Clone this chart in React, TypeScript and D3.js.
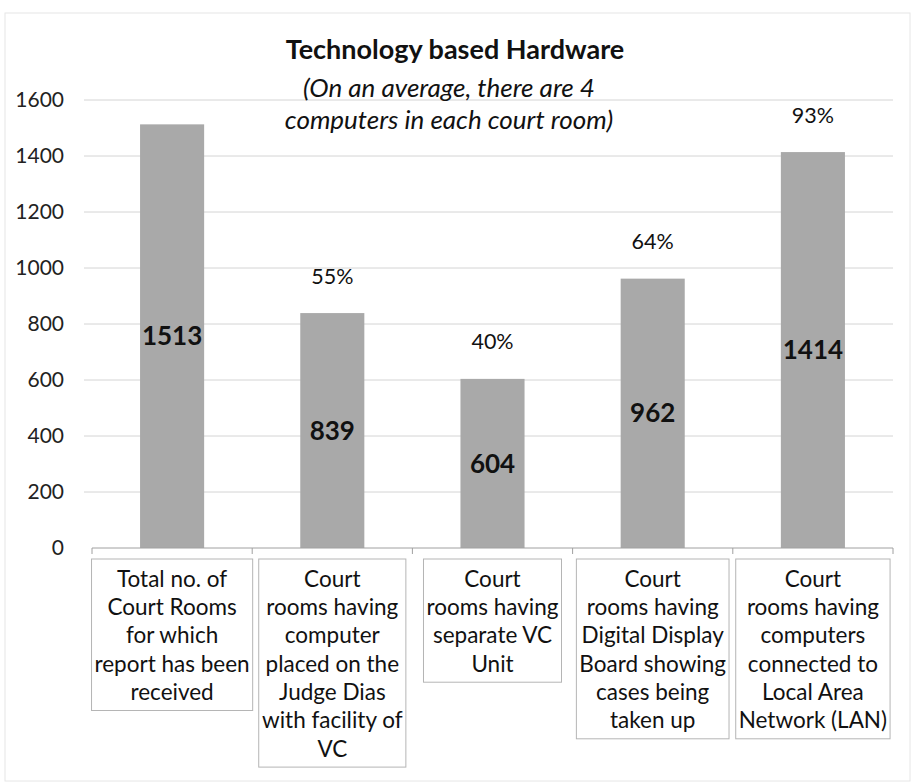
import React, { useMemo } from "react";
import * as d3 from "d3";

const title = "Technology based Hardware";
const subtitleLines = ["(On an average, there are 4", "computers in each court room)"];
const categories = ["total", "judgeDias", "vcUnit", "display", "lan"];
const categoryLabels: string[][] = [
  ["Total no. of", "Court Rooms", "for which", "report has been", "received"],
  ["Court", "rooms having", "computer", "placed on the", "Judge Dias", "with facility of", "VC"],
  ["Court", "rooms having", "separate VC", "Unit"],
  ["Court", "rooms having", "Digital Display", "Board showing", "cases being", "taken up"],
  ["Court", "rooms having", "computers", "connected to", "Local Area", "Network (LAN)"],
];
const values = [1513, 839, 604, 962, 1414];
const percentLabels = ["", "55%", "40%", "64%", "93%"];
const yTicks = [0, 200, 400, 600, 800, 1000, 1200, 1400, 1600];

const W = 914;
const H = 784;
const FONT = "Lato, 'Open Sans', sans-serif";
const CAT_SIZE = 22.5;
const LINE_H = 28.3;

export default function App() {
  const x = d3.scaleBand<string>().domain(categories).range([92, 893]).paddingInner(0.6).paddingOuter(0.3);
  const y = d3.scaleLinear().domain([0, 1600]).range([548, 100]);
  const step = x.step();
  const left = 92;

  const widths = useMemo(() => {
    const c = document.createElement("canvas").getContext("2d");
    if (!c) return categoryLabels.map(() => 140);
    c.font = `${CAT_SIZE}px Lato`;
    return categoryLabels.map((ls) => Math.max(...ls.map((l) => c.measureText(l).width)));
  }, []);

  return (
    <svg width={W} height={H} style={{ position: "absolute", left: 0, top: 0, background: "#fff" }} fontFamily={FONT}>
      <rect x={5} y={13} width={905} height={768} fill="none" stroke="#e6e6e6" strokeWidth={1} />
      {/* gridlines */}
      {yTicks.filter((t) => t > 0).map((t) => (
        <line key={t} x1={84} x2={893} y1={y(t)} y2={y(t)} stroke="#d4d4d4" strokeWidth={1} />
      ))}
      {/* y labels */}
      {yTicks.map((t) => (
        <text key={t} x={64} y={y(t)} dy="0.35em" textAnchor="end" fontSize={21} fill="#222">
          {t}
        </text>
      ))}
      {/* bars */}
      {categories.map((c, i) => (
        <rect key={c} x={x(c)} y={y(values[i])} width={x.bandwidth()} height={y(0) - y(values[i])} fill="#a9a9a9" />
      ))}
      {/* axis */}
      <line x1={left} x2={893} y1={y(0)} y2={y(0)} stroke="#a0a0a0" strokeWidth={1} />
      {d3.range(categories.length + 1).map((k) => (
        <line key={k} x1={left + k * step} x2={left + k * step} y1={y(0)} y2={y(0) + 6} stroke="#a0a0a0" />
      ))}
      {/* value labels */}
      {categories.map((c, i) => (
        <text
          key={c}
          x={(x(c) as number) + x.bandwidth() / 2}
          y={(y(values[i]) + y(0)) / 2}
          dy="0.35em"
          textAnchor="middle"
          fontSize={26}
          fontWeight="bold"
          fill="#111"
        >
          {values[i]}
        </text>
      ))}
      {/* percent labels */}
      {categories.map((c, i) =>
        percentLabels[i] ? (
          <text
            key={c}
            x={(x(c) as number) + x.bandwidth() / 2}
            y={y(values[i]) - 37}
            dy="0.35em"
            textAnchor="middle"
            fontSize={21.5}
            fill="#111"
          >
            {percentLabels[i]}
          </text>
        ) : null
      )}
      {/* category label boxes */}
      {categories.map((c, i) => {
        const cx = (x(c) as number) + x.bandwidth() / 2;
        const bw = widths[i] + 6;
        const lines = categoryLabels[i];
        const top = 559;
        return (
          <g key={c}>
            <rect x={cx - bw / 2} y={top} width={bw} height={lines.length * LINE_H + 10} fill="#fff" stroke="#b5b5b5" strokeWidth={1} />
            {lines.map((l, j) => (
              <text key={j} x={cx} y={top + 20 + j * LINE_H} dy="0.35em" textAnchor="middle" fontSize={CAT_SIZE} fill="#111">
                {l}
              </text>
            ))}
          </g>
        );
      })}
      {/* title */}
      <text x={455} y={50} dy="0.35em" textAnchor="middle" fontSize={27} fontWeight="bold" fill="#111">
        {title}
      </text>
      {subtitleLines.map((s, j) => (
        <text key={j} x={449} y={88 + j * 32} dy="0.35em" textAnchor="middle" fontSize={26} fontStyle="italic" fill="#111">
          {s}
        </text>
      ))}
    </svg>
  );
}
